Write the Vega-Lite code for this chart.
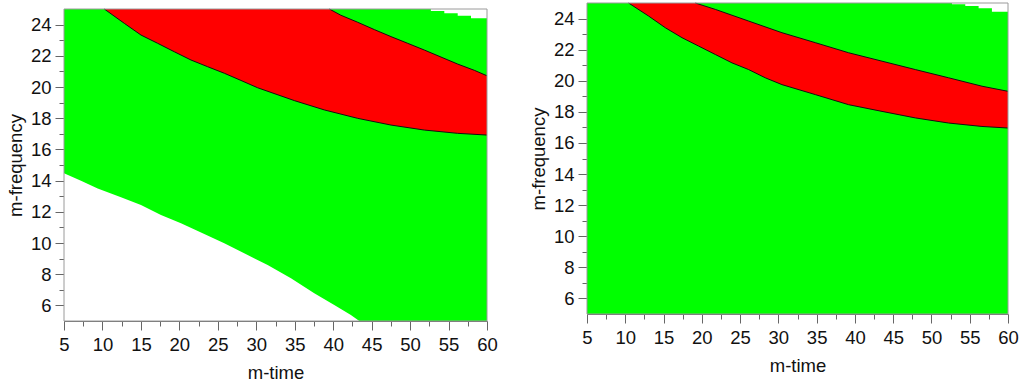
{
  "$schema": "https://vega.github.io/schema/vega-lite/v6.json",
  "padding": {"left": 6, "top": 1, "right": 0, "bottom": 0},
  "background": "white",
  "spacing": 31,
  "config": {
    "view": {"stroke": null},
    "axis": {
      "domainColor": "#666666",
      "tickColor": "#666666",
      "labelFont": "Liberation Sans",
      "labelFontSize": 18.5,
      "labelColor": "#111111",
      "titleFont": "Liberation Sans",
      "titleFontSize": 18.5,
      "titleFontWeight": "normal",
      "titleColor": "#111111",
      "grid": false,
      "labelOverlap": false,
      "labelFlush": false,
      "zindex": 1
    }
  },
  "datasets": {
    "bg": [{"x0": 5, "x1": 60, "f0": 5, "f1": 25}],
    "A_white_low": [
      {"x": 5, "f": 14.47}, {"x": 7.21, "f": 13.99}, {"x": 9.38, "f": 13.5}, {"x": 12.41, "f": 12.93},
      {"x": 15.01, "f": 12.44}, {"x": 17.61, "f": 11.79}, {"x": 20.21, "f": 11.26}, {"x": 23.24, "f": 10.58},
      {"x": 25.84, "f": 9.98}, {"x": 28.88, "f": 9.23}, {"x": 31.48, "f": 8.59}, {"x": 34.51, "f": 7.74},
      {"x": 37.54, "f": 6.78}, {"x": 40.14, "f": 6.03}, {"x": 42.3, "f": 5.38}, {"x": 43.4, "f": 5.0}
    ],
    "A_red_lo": [
      {"x": 10.24, "f": 25}, {"x": 12.84, "f": 24.08}, {"x": 15.01, "f": 23.33}, {"x": 17.18, "f": 22.8},
      {"x": 19.34, "f": 22.26}, {"x": 21.51, "f": 21.73}, {"x": 23.68, "f": 21.3}, {"x": 25.85, "f": 20.88},
      {"x": 28.01, "f": 20.42}, {"x": 30.18, "f": 19.95}, {"x": 35.0, "f": 19.12}, {"x": 38.85, "f": 18.53},
      {"x": 43.19, "f": 17.99}, {"x": 47.52, "f": 17.56}, {"x": 51.85, "f": 17.24}, {"x": 56.19, "f": 17.03},
      {"x": 60, "f": 16.92}
    ],
    "A_red_hi": [
      {"x": 39.5, "f": 25}, {"x": 41.0, "f": 24.6}, {"x": 43.19, "f": 24.15}, {"x": 45.35, "f": 23.68},
      {"x": 47.52, "f": 23.23}, {"x": 49.69, "f": 22.8}, {"x": 51.85, "f": 22.37}, {"x": 54.02, "f": 21.92},
      {"x": 56.19, "f": 21.47}, {"x": 58.35, "f": 21.07}, {"x": 60, "f": 20.72}
    ],
    "A_white_top": [
      {"x": 52.7, "f": 24.87}, {"x": 54.45, "f": 24.72}, {"x": 56.19, "f": 24.57}, {"x": 57.92, "f": 24.4}, {"x": 60, "f": 24.4}
    ],
    "B_red_lo": [
      {"x": 10.43, "f": 25}, {"x": 13.05, "f": 24.16}, {"x": 15.23, "f": 23.41}, {"x": 17.41, "f": 22.77},
      {"x": 19.58, "f": 22.23}, {"x": 21.76, "f": 21.69}, {"x": 23.94, "f": 21.15}, {"x": 26.11, "f": 20.72},
      {"x": 28.29, "f": 20.19}, {"x": 30.47, "f": 19.75}, {"x": 34.82, "f": 19.11}, {"x": 39.18, "f": 18.46},
      {"x": 43.54, "f": 18.03}, {"x": 47.89, "f": 17.61}, {"x": 52.24, "f": 17.28}, {"x": 56.6, "f": 17.06},
      {"x": 60, "f": 16.96}
    ],
    "B_red_hi": [
      {"x": 19.15, "f": 25}, {"x": 21.76, "f": 24.59}, {"x": 26.11, "f": 23.84}, {"x": 30.47, "f": 23.09},
      {"x": 34.82, "f": 22.45}, {"x": 39.18, "f": 21.8}, {"x": 43.54, "f": 21.26}, {"x": 47.89, "f": 20.72},
      {"x": 52.24, "f": 20.19}, {"x": 56.6, "f": 19.65}, {"x": 60, "f": 19.32}
    ],
    "B_white_top": [
      {"x": 52.68, "f": 24.92}, {"x": 54.42, "f": 24.8}, {"x": 56.16, "f": 24.66}, {"x": 57.9, "f": 24.44}, {"x": 60, "f": 24.44}
    ]
  },
  "hconcat": [
    {
      "spacing": 3,
      "vconcat": [
        {
          "width": 423,
          "height": 1,
          "data": {"values": [{}]},
          "mark": {"type": "point", "opacity": 0, "size": 0},
          "encoding": {}
        },
        {
          "width": 423,
          "height": 312,
          "resolve": {"axis": {"x": "independent", "y": "independent"}},
          "layer": [
            {
              "data": {"name": "bg"},
              "mark": {"type": "rect", "color": "#00ff00"},
              "encoding": {
                "x": {"field": "x0", "type": "quantitative", "scale": {"domain": [5, 60], "nice": false, "zero": false},
                  "axis": {"title": "m-time", "orient": "bottom", "values": [5,10,15,20,25,30,35,40,45,50,55,60], "tickSize": 9, "labelPadding": 5, "titlePadding": 10}},
                "x2": {"field": "x1"},
                "y": {"field": "f0", "type": "quantitative", "scale": {"domain": [5, 25], "nice": false, "zero": false},
                  "axis": {"title": "m-frequency", "orient": "left", "values": [6,8,10,12,14,16,18,20,22,24], "tickSize": 9, "labelPadding": 4, "titlePadding": 5}},
                "y2": {"field": "f1"}
              }
            },
            {
              "data": {"name": "A_white_low"},
              "mark": {"type": "area", "color": "#ffffff", "opacity": 1},
              "encoding": {
                "x": {"field": "x", "type": "quantitative", "scale": {"domain": [5, 60], "nice": false, "zero": false},
                  "axis": {"title": null, "orient": "bottom", "values": [7.5,12.5,17.5,22.5,27.5,32.5,37.5,42.5,47.5,52.5,57.5], "tickSize": 5, "labels": false, "domain": false}},
                "y": {"field": "f", "type": "quantitative", "scale": {"domain": [5, 25], "nice": false, "zero": false},
                  "axis": {"title": null, "orient": "left", "values": [7,9,11,13,15,17,19,21,23], "tickSize": 5, "labels": false, "domain": false}},
                "y2": {"datum": 5}
              }
            },
            {
              "data": {"name": "A_red_lo"},
              "mark": {"type": "area", "color": "#ff0000", "opacity": 1},
              "encoding": {
                "x": {"field": "x", "type": "quantitative", "scale": {"domain": [5, 60], "nice": false, "zero": false}, "axis": null},
                "y": {"field": "f", "type": "quantitative", "scale": {"domain": [5, 25], "nice": false, "zero": false}, "axis": null},
                "y2": {"datum": 25}
              }
            },
            {
              "data": {"name": "A_red_hi"},
              "mark": {"type": "area", "color": "#00ff00", "opacity": 1},
              "encoding": {
                "x": {"field": "x", "type": "quantitative", "scale": {"domain": [5, 60], "nice": false, "zero": false}, "axis": null},
                "y": {"field": "f", "type": "quantitative", "scale": {"domain": [5, 25], "nice": false, "zero": false}, "axis": null},
                "y2": {"datum": 25}
              }
            },
            {
              "data": {"name": "A_white_top"},
              "mark": {"type": "area", "color": "#ffffff", "opacity": 1, "interpolate": "step-after"},
              "encoding": {
                "x": {"field": "x", "type": "quantitative", "scale": {"domain": [5, 60], "nice": false, "zero": false}, "axis": null},
                "y": {"field": "f", "type": "quantitative", "scale": {"domain": [5, 25], "nice": false, "zero": false}, "axis": null},
                "y2": {"datum": 25}
              }
            },
            {
              "data": {"name": "A_red_lo"},
              "mark": {"type": "line", "color": "#111111", "strokeWidth": 1},
              "encoding": {
                "x": {"field": "x", "type": "quantitative", "scale": {"domain": [5, 60], "nice": false, "zero": false}, "axis": null},
                "y": {"field": "f", "type": "quantitative", "scale": {"domain": [5, 25], "nice": false, "zero": false}, "axis": null}
              }
            },
            {
              "data": {"name": "A_red_hi"},
              "mark": {"type": "line", "color": "#111111", "strokeWidth": 1},
              "encoding": {
                "x": {"field": "x", "type": "quantitative", "scale": {"domain": [5, 60], "nice": false, "zero": false}, "axis": null},
                "y": {"field": "f", "type": "quantitative", "scale": {"domain": [5, 25], "nice": false, "zero": false}, "axis": null}
              }
            },
            {
              "data": {"name": "bg"},
              "mark": {"type": "rect", "filled": false, "stroke": "#9a9a9a", "strokeWidth": 1},
              "encoding": {
                "x": {"field": "x0", "type": "quantitative", "scale": {"domain": [5, 60], "nice": false, "zero": false}, "axis": null},
                "x2": {"field": "x1"},
                "y": {"field": "f0", "type": "quantitative", "scale": {"domain": [5, 25], "nice": false, "zero": false}, "axis": null},
                "y2": {"field": "f1"}
              }
            }
          ]
        }
      ]
    },
    {
      "width": 421,
      "height": 311,
      "resolve": {"axis": {"x": "independent", "y": "independent"}},
      "layer": [
        {
          "data": {"name": "bg"},
          "mark": {"type": "rect", "color": "#00ff00"},
          "encoding": {
            "x": {"field": "x0", "type": "quantitative", "scale": {"domain": [5, 60], "nice": false, "zero": false},
              "axis": {"title": "m-time", "orient": "bottom", "values": [5,10,15,20,25,30,35,40,45,50,55,60], "tickSize": 9, "labelPadding": 5, "titlePadding": 10}},
            "x2": {"field": "x1"},
            "y": {"field": "f0", "type": "quantitative", "scale": {"domain": [5, 25], "nice": false, "zero": false},
              "axis": {"title": "m-frequency", "orient": "left", "values": [6,8,10,12,14,16,18,20,22,24], "tickSize": 9, "labelPadding": 4, "titlePadding": 5}},
            "y2": {"field": "f1"}
          }
        },
        {
          "data": {"name": "B_red_lo"},
          "mark": {"type": "area", "color": "#ff0000", "opacity": 1},
          "encoding": {
            "x": {"field": "x", "type": "quantitative", "scale": {"domain": [5, 60], "nice": false, "zero": false},
              "axis": {"title": null, "orient": "bottom", "values": [7.5,12.5,17.5,22.5,27.5,32.5,37.5,42.5,47.5,52.5,57.5], "tickSize": 5, "labels": false, "domain": false}},
            "y": {"field": "f", "type": "quantitative", "scale": {"domain": [5, 25], "nice": false, "zero": false},
              "axis": {"title": null, "orient": "left", "values": [7,9,11,13,15,17,19,21,23], "tickSize": 5, "labels": false, "domain": false}},
            "y2": {"datum": 25}
          }
        },
        {
          "data": {"name": "B_red_hi"},
          "mark": {"type": "area", "color": "#00ff00", "opacity": 1},
          "encoding": {
            "x": {"field": "x", "type": "quantitative", "scale": {"domain": [5, 60], "nice": false, "zero": false}, "axis": null},
            "y": {"field": "f", "type": "quantitative", "scale": {"domain": [5, 25], "nice": false, "zero": false}, "axis": null},
            "y2": {"datum": 25}
          }
        },
        {
          "data": {"name": "B_white_top"},
          "mark": {"type": "area", "color": "#ffffff", "opacity": 1, "interpolate": "step-after"},
          "encoding": {
            "x": {"field": "x", "type": "quantitative", "scale": {"domain": [5, 60], "nice": false, "zero": false}, "axis": null},
            "y": {"field": "f", "type": "quantitative", "scale": {"domain": [5, 25], "nice": false, "zero": false}, "axis": null},
            "y2": {"datum": 25}
          }
        },
        {
          "data": {"name": "B_red_lo"},
          "mark": {"type": "line", "color": "#111111", "strokeWidth": 1},
          "encoding": {
            "x": {"field": "x", "type": "quantitative", "scale": {"domain": [5, 60], "nice": false, "zero": false}, "axis": null},
            "y": {"field": "f", "type": "quantitative", "scale": {"domain": [5, 25], "nice": false, "zero": false}, "axis": null}
          }
        },
        {
          "data": {"name": "B_red_hi"},
          "mark": {"type": "line", "color": "#111111", "strokeWidth": 1},
          "encoding": {
            "x": {"field": "x", "type": "quantitative", "scale": {"domain": [5, 60], "nice": false, "zero": false}, "axis": null},
            "y": {"field": "f", "type": "quantitative", "scale": {"domain": [5, 25], "nice": false, "zero": false}, "axis": null}
          }
        },
        {
          "data": {"name": "bg"},
          "mark": {"type": "rect", "filled": false, "stroke": "#9a9a9a", "strokeWidth": 1},
          "encoding": {
            "x": {"field": "x0", "type": "quantitative", "scale": {"domain": [5, 60], "nice": false, "zero": false}, "axis": null},
            "x2": {"field": "x1"},
            "y": {"field": "f0", "type": "quantitative", "scale": {"domain": [5, 25], "nice": false, "zero": false}, "axis": null},
            "y2": {"field": "f1"}
          }
        }
      ]
    }
  ]
}
